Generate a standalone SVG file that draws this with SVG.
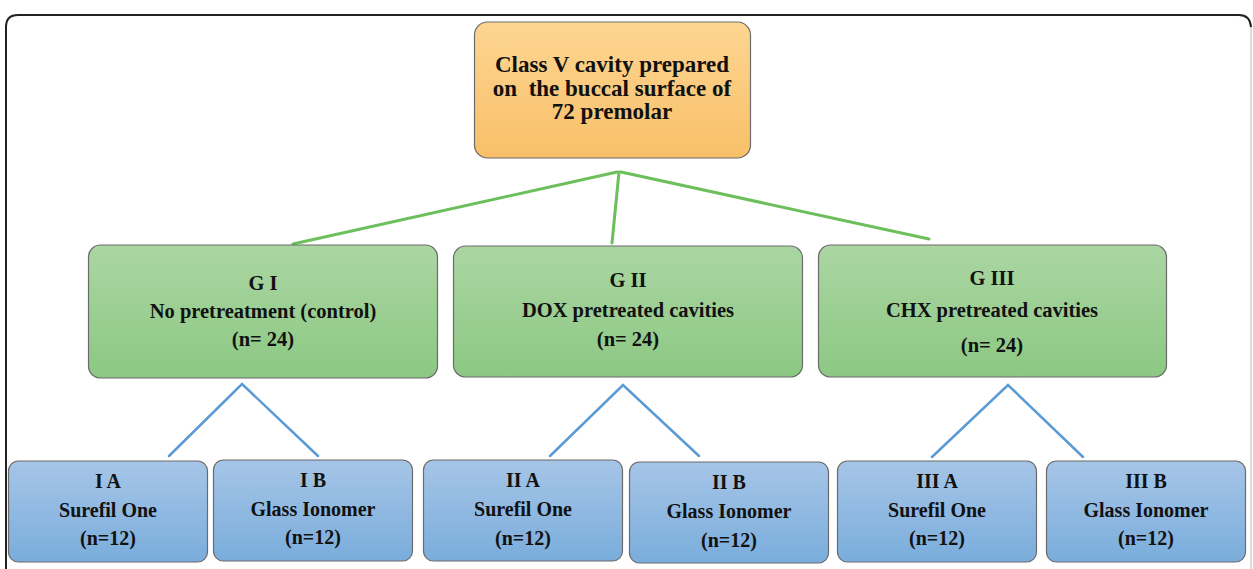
<svg xmlns="http://www.w3.org/2000/svg" width="1253" height="569" viewBox="0 0 1253 569">
<defs>
<linearGradient id="gOrange" x1="0" y1="0" x2="0" y2="1">
<stop offset="0" stop-color="#fdd692"/>
<stop offset="1" stop-color="#f8bf68"/>
</linearGradient>
<linearGradient id="gGreen" x1="0" y1="0" x2="0" y2="1">
<stop offset="0" stop-color="#abd6a3"/>
<stop offset="1" stop-color="#8cc883"/>
</linearGradient>
<linearGradient id="gBlue" x1="0" y1="0" x2="0" y2="1">
<stop offset="0" stop-color="#a6c5e7"/>
<stop offset="1" stop-color="#7aaddc"/>
</linearGradient>
</defs>
<style>
.box{stroke:#6b6b6b;stroke-width:1.2}
.t{font-family:'Liberation Serif','DejaVu Serif',serif;font-weight:bold;fill:#111;text-anchor:middle}
.t1{font-size:23px}
.t2{font-size:20.5px}
.t3{font-size:20px}
.gl{stroke:#6cbf5b;stroke-width:3;fill:none;stroke-linecap:round}
.bl{stroke:#5b9bd5;stroke-width:2.5;fill:none;stroke-linecap:round}
</style>
<rect width="1253" height="569" fill="#ffffff"/>
<path d="M6 571 V27 Q6 15 18 15 H1239 Q1250 15 1251 27" fill="none" stroke="#222" stroke-width="2"/>
<path d="M1251 27 V571" fill="none" stroke="#cfcfcf" stroke-width="1.5"/>
<g id="connectors">
<line class="gl" x1="617" y1="172" x2="293" y2="244"/>
<line class="gl" x1="619" y1="172" x2="612" y2="243"/>
<line class="gl" x1="621" y1="172" x2="929" y2="239"/>
<polyline class="bl" points="169,456 242,384 318,456"/>
<polyline class="bl" points="550,456 623,385 699,456"/>
<polyline class="bl" points="932,457 1008,385 1083,457"/>
</g>
<g id="root">
<rect class="box" x="474.5" y="22" width="276" height="136" rx="13" fill="url(#gOrange)"/>
<text class="t t1" x="612" y="72">Class V cavity prepared</text>
<text class="t t1" x="612" y="95.5" xml:space="preserve">on  the buccal surface of</text>
<text class="t t1" x="612" y="119">72 premolar</text>
</g>
<g id="g1">
<rect class="box" x="88.5" y="245" width="349" height="133" rx="12" fill="url(#gGreen)"/>
<text class="t t2" x="263" y="290">G I</text>
<text class="t t2" x="263" y="318">No pretreatment (control)</text>
<text class="t t2" x="263" y="346">(n= 24)</text>
</g>
<g id="g2">
<rect class="box" x="453.5" y="246" width="349" height="131" rx="12" fill="url(#gGreen)"/>
<text class="t t2" x="628" y="287">G II</text>
<text class="t t2" x="628" y="317">DOX pretreated cavities</text>
<text class="t t2" x="628" y="346">(n= 24)</text>
</g>
<g id="g3">
<rect class="box" x="818.5" y="245" width="348" height="132" rx="12" fill="url(#gGreen)"/>
<text class="t t2" x="992" y="285">G III</text>
<text class="t t2" x="992" y="317">CHX pretreated cavities</text>
<text class="t t2" x="992" y="352">(n= 24)</text>
</g>
<g id="g1a">
<rect class="box" x="8.5" y="461" width="199" height="101" rx="10" fill="url(#gBlue)"/>
<text class="t t3" x="108" y="488">I A</text>
<text class="t t3" x="108" y="517">Surefil One</text>
<text class="t t3" x="108" y="545">(n=12)</text>
</g>
<g id="g1b">
<rect class="box" x="213.5" y="460" width="199" height="101" rx="10" fill="url(#gBlue)"/>
<text class="t t3" x="313" y="487">I B</text>
<text class="t t3" x="313" y="516">Glass Ionomer</text>
<text class="t t3" x="313" y="544">(n=12)</text>
</g>
<g id="g2a">
<rect class="box" x="423.5" y="460" width="199" height="101" rx="10" fill="url(#gBlue)"/>
<text class="t t3" x="523" y="487">II A</text>
<text class="t t3" x="523" y="516">Surefil One</text>
<text class="t t3" x="523" y="545">(n=12)</text>
</g>
<g id="g2b">
<rect class="box" x="629.5" y="462" width="199" height="101" rx="10" fill="url(#gBlue)"/>
<text class="t t3" x="729" y="489">II B</text>
<text class="t t3" x="729" y="518">Glass Ionomer</text>
<text class="t t3" x="729" y="547">(n=12)</text>
</g>
<g id="g3a">
<rect class="box" x="837.5" y="461" width="199" height="101" rx="10" fill="url(#gBlue)"/>
<text class="t t3" x="937" y="488">III A</text>
<text class="t t3" x="937" y="517">Surefil One</text>
<text class="t t3" x="937" y="545">(n=12)</text>
</g>
<g id="g3b">
<rect class="box" x="1046.5" y="461" width="199" height="101" rx="10" fill="url(#gBlue)"/>
<text class="t t3" x="1146" y="488">III B</text>
<text class="t t3" x="1146" y="517">Glass Ionomer</text>
<text class="t t3" x="1146" y="545">(n=12)</text>
</g>
</svg>
